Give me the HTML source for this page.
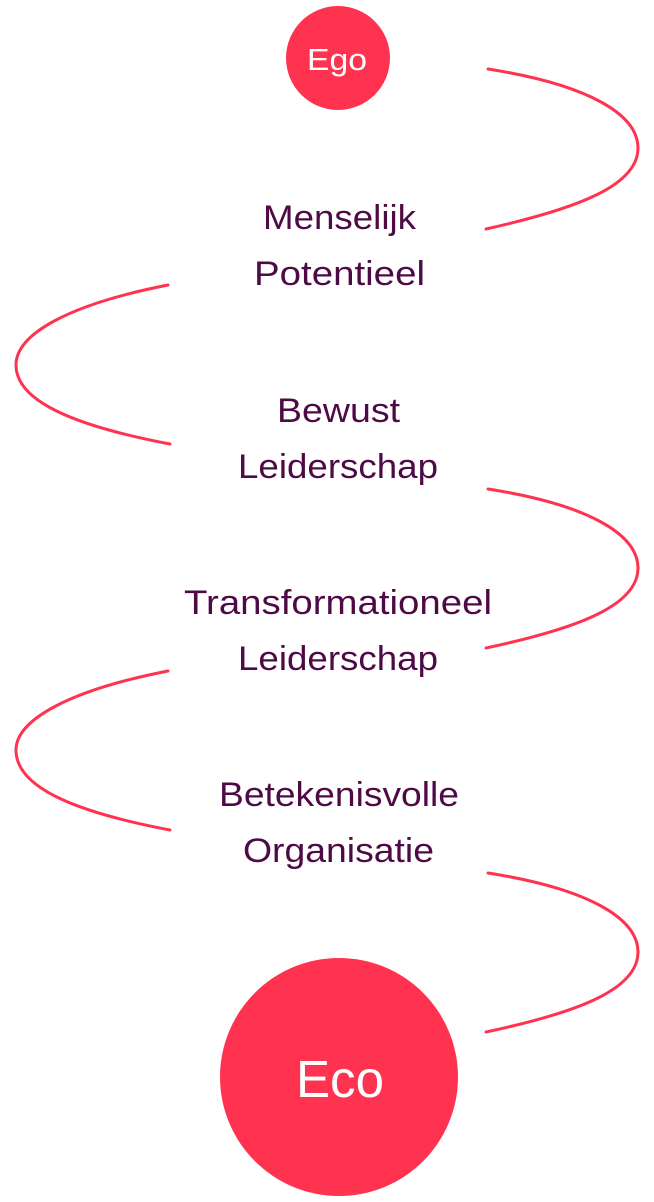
<!DOCTYPE html>
<html><head><meta charset="utf-8"><style>
html,body{margin:0;padding:0;background:#fff;}
svg{display:block;}
text{font-family:"Liberation Sans",sans-serif;}
</style></head><body>
<svg width="654" height="1202" viewBox="0 0 654 1202" xmlns="http://www.w3.org/2000/svg">
<g fill="none" stroke="#ff334f" stroke-width="3" stroke-linecap="round">
<path d="M488,69 C590,85 638,115 638,148 C638,185 580,208 486,229"/>
<path d="M168,285 C66,305 16,335 16,365 C16,400 70,425 170,444"/>
<path d="M488,489 C590,505 638,535 638,568 C638,605 580,628 486,648"/>
<path d="M168,671 C66,691 16,721 16,750 C16,786 70,811 170,830"/>
<path d="M488,873 C590,889 638,919 638,952 C638,989 580,1012 486,1032"/>
</g>
<circle cx="338" cy="58" r="52" fill="#ff334f"/>
<circle cx="339" cy="1077" r="119" fill="#ff334f"/>
<text x="337" y="70" fill="#fff" font-size="31" text-anchor="middle" textLength="60" lengthAdjust="spacingAndGlyphs">Ego</text>
<text x="340" y="1097" fill="#fff" font-size="52" text-anchor="middle" textLength="88" lengthAdjust="spacingAndGlyphs">Eco</text>
<g fill="#4d0a45" font-size="34" text-anchor="middle">
<text x="339.5" y="229" textLength="153" lengthAdjust="spacingAndGlyphs">Menselijk</text>
<text x="339.5" y="285" textLength="171" lengthAdjust="spacingAndGlyphs">Potentieel</text>
<text x="338.5" y="422" textLength="123" lengthAdjust="spacingAndGlyphs">Bewust</text>
<text x="338" y="478" textLength="200" lengthAdjust="spacingAndGlyphs">Leiderschap</text>
<text x="338" y="614" textLength="308" lengthAdjust="spacingAndGlyphs">Transformationeel</text>
<text x="338" y="670" textLength="200" lengthAdjust="spacingAndGlyphs">Leiderschap</text>
<text x="339" y="806" textLength="240" lengthAdjust="spacingAndGlyphs">Betekenisvolle</text>
<text x="338.5" y="862" textLength="191" lengthAdjust="spacingAndGlyphs">Organisatie</text>
</g>
</svg>
</body></html>
